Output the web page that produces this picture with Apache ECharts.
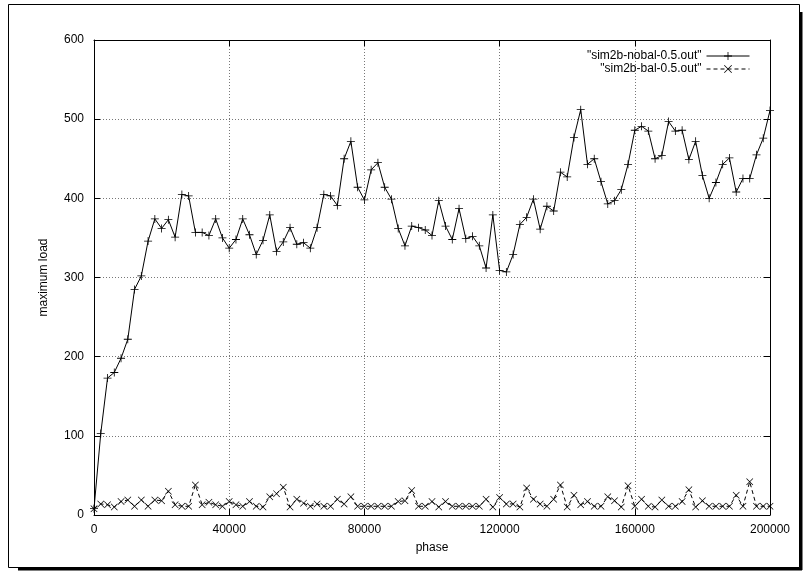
<!DOCTYPE html>
<html><head><meta charset="utf-8">
<script src="https://cdn.jsdelivr.net/npm/echarts@6/dist/echarts.min.js"></script>
<style>html,body{margin:0;padding:0;background:#fff}#c{width:810px;height:575px}</style>
</head><body><div id="c"></div>
<script>
const seriesNames = ['"sim2b-nobal-0.5.out"', '"sim2b-bal-0.5.out"'];
const phaseStep = 2000;
const nobal = [8,103,173,180,198,222,285,302,346,374,
  362,373,351,405,403,357,357,353,374,350,
  337,348,374,354,329,347,379,333,345,363,
  342,344,337,363,405,403,391,450,472,414,
  398,436,445,414,399,362,340,365,363,360,
  353,397,365,348,387,349,352,340,312,379,
  309,307,329,367,376,399,361,390,384,433,
  427,477,512,443,450,421,393,397,411,443,
  486,491,485,450,454,497,485,486,449,472,
  429,400,420,443,451,408,425,425,455,476,511];
const bal = [8,14,13,10,17,19,11,19,11,19,
  18,30,13,11,11,38,13,16,13,11,
  17,13,11,17,11,10,23,27,35,10,
  20,15,11,14,11,11,20,14,23,11,
  11,11,11,11,11,17,18,31,11,11,
  17,10,17,11,11,11,11,11,20,10,
  22,14,14,10,34,20,14,11,20,38,
  10,25,13,17,11,11,23,18,10,37,
  11,20,11,10,19,11,11,17,32,10,
  18,11,11,11,11,25,11,42,11,11,11];
const xTickValues = [0, 40000, 80000, 120000, 160000, 200000];
const yTickValues = [0, 100, 200, 300, 400, 500, 600];
const xAxisTitle = 'phase';
const yAxisTitle = 'maximum load';

const toPairs = arr => arr.map((v, i) => [i * phaseStep, v]);
const FONT = "'Liberation Sans', Arial, sans-serif";
const plusPath = 'path://M0,4.5H10V5.5H0Z M4.5,0H5.5V10H4.5Z';
const crossPath = 'path://M0,0.7L0.7,0L10,9.3L9.3,10Z M9.3,0L10,0.7L0.7,10L0,9.3Z';

const chart = echarts.init(document.getElementById('c'), null, {renderer: 'canvas'});
const gridLine = {show: true, lineStyle: {color: '#777', width: 1, type: [1, 2]}};
const xBase = {type: 'value', min: xTickValues[0], max: xTickValues[xTickValues.length - 1],
  interval: xTickValues[1] - xTickValues[0]};
const yBase = {type: 'value', min: yTickValues[0], max: yTickValues[yTickValues.length - 1],
  interval: yTickValues[1] - yTickValues[0]};
const axLine = {show: true, onZero: false, lineStyle: {color: '#000', width: 1}};
const tick = {show: true, inside: true, length: 6, lineStyle: {color: '#000'}};
const legendCommon = {orient: 'vertical', align: 'right', right: 60,
  itemWidth: 43, itemHeight: 10, itemGap: 0, padding: 0,
  lineStyle: {width: 1},
  textStyle: {color: '#000', fontSize: 12, fontFamily: FONT}};

chart.setOption({
  animation: false,
  backgroundColor: '#fff',
  textStyle: {fontFamily: FONT},
  grid: {left: 94, right: 40, top: 40, bottom: 60, containLabel: false},
  xAxis: [
    Object.assign({}, xBase, {position: 'bottom', axisLine: axLine, axisTick: tick,
      axisLabel: {color: '#000', fontSize: 12, fontFamily: FONT, margin: 9, formatter: v => String(v)},
      splitLine: gridLine,
      name: xAxisTitle, nameLocation: 'middle', nameGap: 27,
      nameTextStyle: {color: '#000', fontSize: 12, fontFamily: FONT}}),
    Object.assign({}, xBase, {position: 'top', axisLine: axLine, axisTick: tick,
      axisLabel: {show: false}, splitLine: {show: false}})
  ],
  yAxis: [
    Object.assign({}, yBase, {position: 'left', axisLine: axLine, axisTick: tick,
      axisLabel: {color: '#000', fontSize: 12, fontFamily: FONT, margin: 10, formatter: v => String(v)},
      splitLine: gridLine,
      name: yAxisTitle, nameLocation: 'middle', nameGap: 44, nameRotate: 90,
      nameTextStyle: {color: '#000', fontSize: 12, fontFamily: FONT}}),
    Object.assign({}, yBase, {position: 'right', axisLine: axLine, axisTick: tick,
      axisLabel: {show: false}, splitLine: {show: false}})
  ],
  legend: [
    Object.assign({}, legendCommon, {data: [seriesNames[0]], top: 50}),
    Object.assign({}, legendCommon, {data: [seriesNames[1]], top: 63})
  ],
  series: [
    {name: seriesNames[0], type: 'line', data: toPairs(nobal), xAxisIndex: 0, yAxisIndex: 0,
      symbol: plusPath, symbolSize: 8, showAllSymbol: true,
      lineStyle: {color: '#000', width: 1}, itemStyle: {color: '#000'}, emphasis: {disabled: true}},
    {name: seriesNames[1], type: 'line', data: toPairs(bal), xAxisIndex: 0, yAxisIndex: 0,
      symbol: crossPath, symbolSize: 7, showAllSymbol: true,
      lineStyle: {color: '#000', width: 1, type: [4, 3]}, itemStyle: {color: '#000'}, emphasis: {disabled: true}}
  ],
  graphic: [
    {type: 'rect', shape: {x: 8.5, y: 4.5, width: 791, height: 563}, style: {fill: 'none', stroke: '#000', lineWidth: 1}, silent: true},
    {type: 'line', shape: {x1: 18, y1: 569, x2: 802, y2: 569}, style: {stroke: '#000', lineWidth: 3}, silent: true},
    {type: 'line', shape: {x1: 801, y1: 12, x2: 801, y2: 570}, style: {stroke: '#000', lineWidth: 3}, silent: true}
  ]
});
</script></body></html>
